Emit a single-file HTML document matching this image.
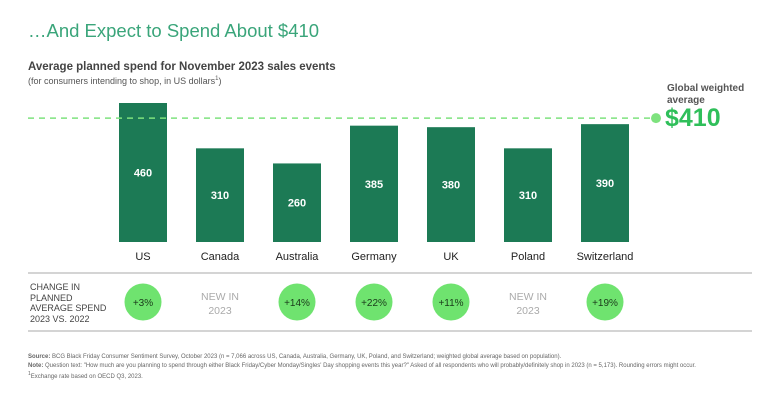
<!DOCTYPE html>
<html><head><meta charset="utf-8"><style>
body{margin:0;width:768px;height:402px;background:#fff;font-family:"Liberation Sans",sans-serif;overflow:hidden;position:relative}
.a{position:absolute;white-space:nowrap}
</style></head><body>
<div class="a" style="left:28px;top:20px;font-size:18.5px;color:#3aa57a">…And Expect to Spend About $410</div>
<div class="a" style="left:28px;top:61px;font-size:11.5px;font-weight:bold;color:#444">Average planned spend for November 2023 sales events</div>
<div class="a" style="left:28px;top:76px;font-size:9px;color:#555">(for consumers intending to shop, in US dollars<sup style="font-size:6px">1</sup>)</div>
<svg id="c" width="768" height="402" style="position:absolute;left:0;top:0"></svg>
<div class="a" style="left:667px;top:83px;font-size:10px;font-weight:bold;color:#555;line-height:12px">Global weighted<br>average</div>
<div class="a" style="left:665px;top:104px;font-size:25px;font-weight:bold;color:#2fbf5a">$410</div>
<div class="a" style="left:30px;top:282px;font-size:9px;color:#444;line-height:10.5px">CHANGE IN<br>PLANNED<br>AVERAGE SPEND<br>2023 VS. 2022</div>
<div class="a" style="left:28px;top:353px;font-size:6px;color:#666;line-height:8.5px"><b>Source:</b> BCG Black Friday Consumer Sentiment Survey, October 2023 (n = 7,066 across US, Canada, Australia, Germany, UK, Poland, and Switzerland; weighted global average based on population).<br><b>Note:</b> Question text: "How much are you planning to spend through either Black Friday/Cyber Monday/Singles' Day shopping events this year?" Asked of all respondents who will probably/definitely shop in 2023 (n = 5,173). Rounding errors might occur.<br><sup>1</sup>Exchange rate based on OECD Q3, 2023.</div>
<script>
const categories=["US","Canada","Australia","Germany","UK","Poland","Switzerland"];
const values=[460,310,260,385,380,310,390];
const changes=["+3%",null,"+14%","+22%","+11%",null,"+19%"];
const globalAvg=410;
const NS="http://www.w3.org/2000/svg";
const svg=document.getElementById("c");
const base=242, k=139/460, x0=119, step=77, bw=48;
const x=i=>x0+i*step, y=v=>base-v*k;
function mk(t,a){const e=document.createElementNS(NS,t);for(const n in a)e.setAttribute(n,a[n]);svg.appendChild(e);return e;}
categories.forEach((c,i)=>{
 const r=mk("rect",{x:x(i),y:y(values[i]),width:bw,height:base-y(values[i]),fill:"#1c7a55"});
 
 
 const t=mk("text",{x:x(i)+bw/2,y:(y(values[i])+base)/2+4,"text-anchor":"middle","font-size":"11","font-weight":"bold",fill:"#fff","font-family":"Liberation Sans"});
 t.textContent=values[i];
 
 
 const l=mk("text",{x:x(i)+bw/2,y:260,"text-anchor":"middle","font-size":"11",fill:"#222","font-family":"Liberation Sans"});
 l.textContent=c;
 
 
 const cx=x(i)+bw/2;
 if(changes[i]){
  const ci=mk("circle",{cx:cx,cy:302,r:18.5,fill:"#6fe36f"});
  
  
  const ct=mk("text",{x:cx,y:306,"text-anchor":"middle","font-size":"10",fill:"#1a3a1a","font-family":"Liberation Sans"});
  ct.textContent=changes[i];
  
  
 } else {
  ["NEW IN","2023"].forEach((s,j)=>{
   const nt=mk("text",{x:cx,y:300+j*14,"text-anchor":"middle","font-size":"10.5",fill:"#aaa","font-family":"Liberation Sans"});
   nt.textContent=s;
   
   
  });
 }
});
const ay=y(globalAvg);
const dl=mk("line",{x1:28,x2:650,y1:ay,y2:ay,stroke:"#7ee27e","stroke-width":"1.5","stroke-dasharray":"6,5"});


const dot=mk("circle",{cx:656,cy:ay,r:5,fill:"#7ee27e"});


[273,331].forEach((yy,j)=>{
 const ln=mk("line",{x1:28,x2:752,y1:yy,y2:yy,stroke:"#aaa","stroke-width":"1"});
 
 
});
</script>
</body></html>
